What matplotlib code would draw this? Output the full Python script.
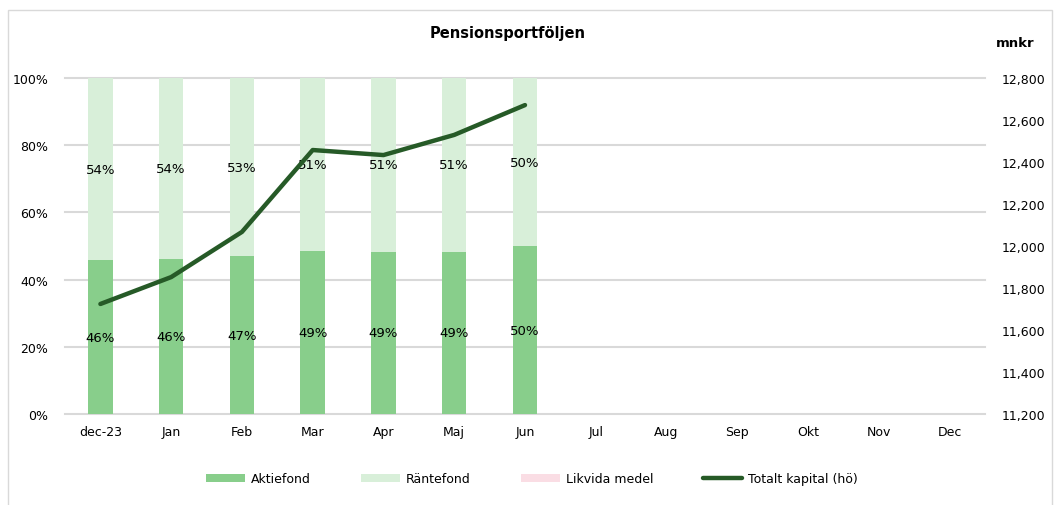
import matplotlib.pyplot as plt
import numpy as np
from matplotlib.patches import Rectangle
from matplotlib.ticker import FuncFormatter


# Chart data
months = ['dec-23', 'Jan', 'Feb', 'Mar', 'Apr', 'Maj', 'Jun',
          'Jul', 'Aug', 'Sep', 'Okt', 'Nov', 'Dec']
aktiefond = [45.8, 46.1, 47.0, 48.5, 48.3, 48.3, 49.9]
aktie_labels = ['46%', '46%', '47%', '49%', '49%', '49%', '50%']
rantefond = [54.2, 53.9, 53.0, 51.5, 51.7, 51.7, 50.1]
ranta_labels = ['54%', '54%', '53%', '51%', '51%', '51%', '50%']
likvida = [0, 0, 0, 0, 0, 0, 0]
totalt_kapital = [11724, 11852, 12067, 12457, 12433, 12529, 12671]

c_aktie = '#88CE8B'
c_ranta = '#D8EFD9'
c_likvid = '#FADDE4'
c_line = '#265A27'
c_grid = '#D9D9D9'

plt.rcParams['font.family'] = 'DejaVu Sans'

fig = plt.figure(figsize=(10.54, 5.06), dpi=100)
ax = fig.add_axes([0.0617, 0.1798, 0.8728, 0.6641])
ax2 = ax.twinx()

x = np.arange(len(aktiefond))
width = 0.345
b1 = ax.bar(x, aktiefond, width, color=c_aktie, label='Aktiefond', zorder=2)
b2 = ax.bar(x, rantefond, width, bottom=aktiefond, color=c_ranta, label='Räntefond', zorder=2)
b3 = ax.bar(x, likvida, width, bottom=np.add(aktiefond, rantefond), color=c_likvid,
            label='Likvida medel', zorder=2)

for i in range(len(x)):
    ax.text(x[i], aktiefond[i] / 2, aktie_labels[i], ha='center', va='center', fontsize=9.5, zorder=5)
    ax.text(x[i], aktiefond[i] + rantefond[i] / 2, ranta_labels[i], ha='center', va='center',
            fontsize=9.5, zorder=5)

line, = ax2.plot(x, totalt_kapital, color=c_line, linewidth=3.2, solid_capstyle='round',
                 label='Totalt kapital (hö)', zorder=4)

ax.set_xlim(-0.5, len(months) - 0.5)
ax.set_ylim(0, 100)
ax.set_yticks(range(0, 101, 20))
ax.yaxis.set_major_formatter(FuncFormatter(lambda v, p: f'{int(v)}%'))
ax.set_xticks(range(len(months)))
ax.set_xticklabels(months)

ax2.set_ylim(11200, 12800)
ax2.set_yticks(range(11200, 12801, 200))
ax2.yaxis.set_major_formatter(FuncFormatter(lambda v, p: f'{int(v):,}'))

ax.grid(axis='y', color=c_grid, linewidth=1.5, zorder=0)
for gl in ax.get_ygridlines():
    gl.set_clip_on(False)
ax.set_axisbelow(True)
for a in (ax, ax2):
    for s in a.spines.values():
        s.set_visible(False)
    a.tick_params(length=0, labelsize=9)
ax.tick_params(axis='y', pad=12)
ax.tick_params(axis='x', pad=8)
ax2.tick_params(axis='y', pad=12)

ax.set_zorder(ax2.get_zorder() - 1)
ax.patch.set_visible(False)

fig.text(0.482, 0.934, 'Pensionsportföljen', ha='center', va='center', fontsize=10.5, fontweight='bold')
fig.text(0.963, 0.914, 'mnkr', ha='center', va='center', fontsize=9.5, fontweight='bold')

fig.legend([b1, b2, b3, line], ['Aktiefond', 'Räntefond', 'Likvida medel', 'Totalt kapital (hö)'],
           loc='center', bbox_to_anchor=(0.505, 0.052), ncol=4, frameon=False, fontsize=9,
           handlelength=3.1, handleheight=0.6, columnspacing=4.0, handletextpad=0.5)

# light frame around the chart
fig.patches.append(Rectangle((8 / 1054, -0.05), 1044 / 1054, 1.05 - 11 / 506, transform=fig.transFigure,
                             fill=False, edgecolor='#D9D9D9', linewidth=1))

fig.savefig('out.png', dpi=100)
plt.close(fig)
